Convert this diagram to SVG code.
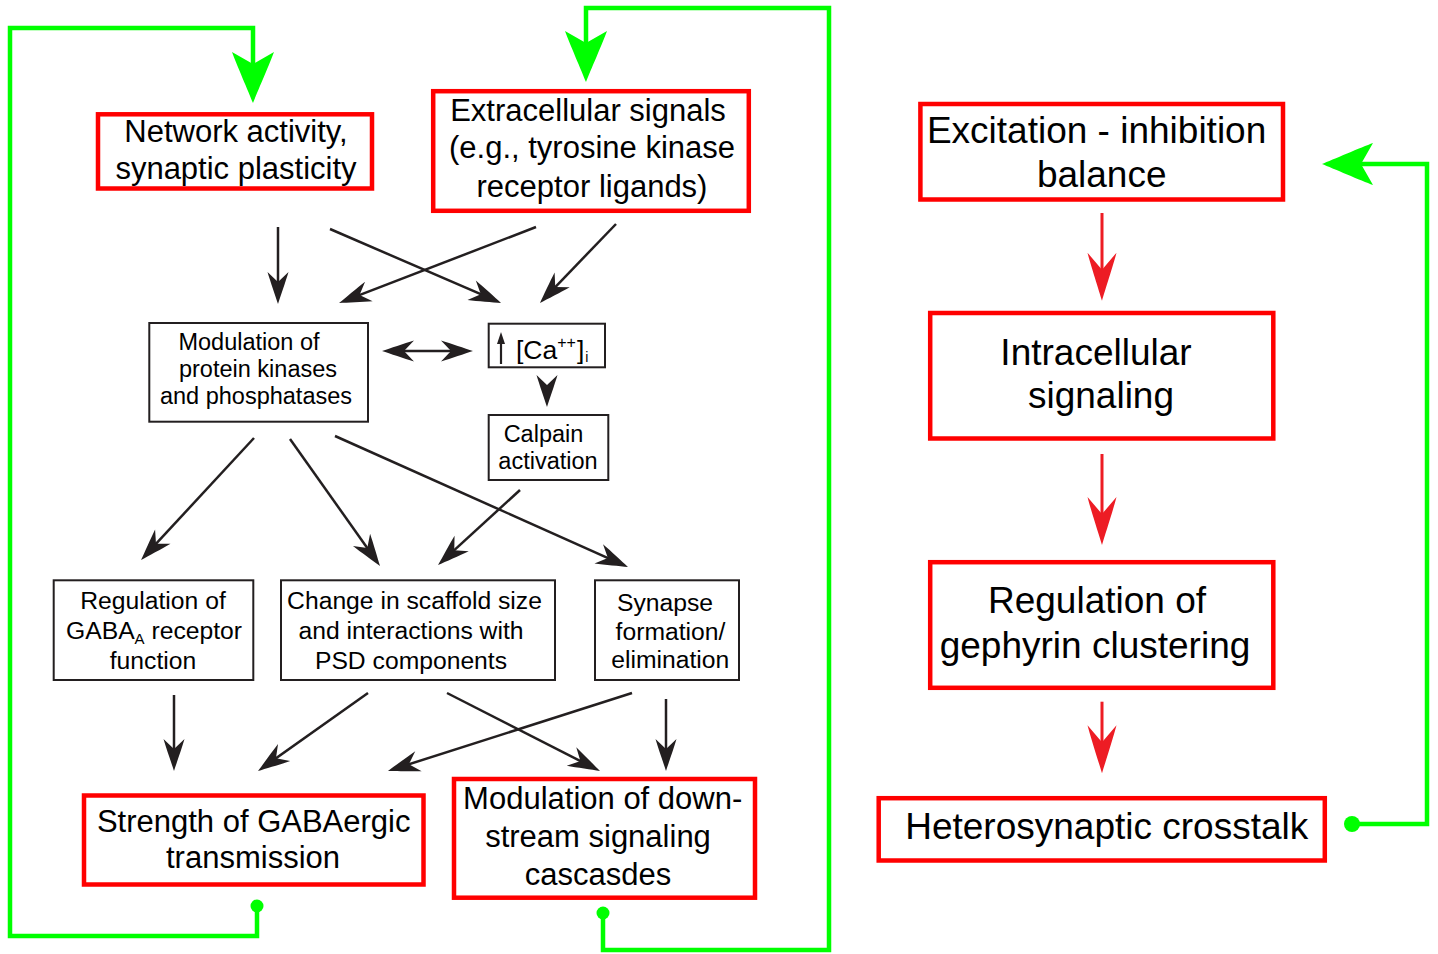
<svg xmlns="http://www.w3.org/2000/svg" width="1438" height="954" viewBox="0 0 1438 954">
<style>
.rbox{fill:#fff;stroke:#ff0000;stroke-width:4.5}
.bbox{fill:#fff;stroke:#231f20;stroke-width:2}
text{font-family:"Liberation Sans",Arial,Helvetica,sans-serif;fill:#000}
.big{font-size:31px;text-anchor:middle}
.xl{font-size:37px;text-anchor:middle}
.sm{font-size:24.7px}
.smc{font-size:24.7px;text-anchor:middle}
.tight{font-size:23.5px;text-anchor:middle}
.blk{stroke:#231f20;stroke-width:2.5;fill:none;marker-end:url(#ab)}
.red{stroke:#ed1c24;stroke-width:3;fill:none;marker-end:url(#ar)}
.grn{stroke:#00ff00;stroke-width:4.5;fill:none;stroke-linejoin:miter;marker-end:url(#ag)}
</style>
<defs>
<marker id="ab" markerUnits="userSpaceOnUse" orient="auto" refX="-12" refY="0" markerWidth="40" markerHeight="30" overflow="visible">
<path d="M0,0 C-8,-2.6 -22,-7.5 -32,-10.5 L-22,0 L-32,10.5 C-22,7.5 -8,2.6 0,0 Z" fill="#231f20"/>
</marker>
<marker id="abs" markerUnits="userSpaceOnUse" orient="auto-start-reverse" refX="-12" refY="0" markerWidth="40" markerHeight="30" overflow="visible">
<path d="M0,0 C-8,-2.6 -22,-7.5 -32,-10.5 L-22,0 L-32,10.5 C-22,7.5 -8,2.6 0,0 Z" fill="#231f20"/>
</marker>
<marker id="ar" markerUnits="userSpaceOnUse" orient="auto" refX="-20" refY="0" markerWidth="60" markerHeight="40" overflow="visible">
<path d="M0,0 C-10,-3 -38,-12 -48,-14.5 L-31,0 L-48,14.5 C-38,12 -10,3 0,0 Z" fill="#ed1c24"/>
</marker>
<marker id="ag" markerUnits="userSpaceOnUse" orient="auto" refX="-20" refY="0" markerWidth="60" markerHeight="50" overflow="visible">
<path d="M0,0 C-10,-4 -40,-17 -51,-21 L-39,0 L-51,21 C-40,17 -10,4 0,0 Z" fill="#00ff00"/>
</marker>
</defs>
<rect width="1438" height="954" fill="#fff"/>

<g id="connectors">
<path class="grn" d="M257,906 L257,936 L10,936 L10,28 L253,28 L253,83"/>
<circle cx="257" cy="906" r="6.5" fill="#00ff00"/>
<path class="grn" d="M603,913 L603,950 L829,950 L829,8 L586,8 L586,62"/>
<circle cx="603" cy="913" r="6.5" fill="#00ff00"/>
<path class="grn" d="M1352,824 L1427,824 L1427,164 L1342,164"/>
<circle cx="1352" cy="824" r="8" fill="#00ff00"/>
<line class="blk" x1="278" y1="227" x2="278" y2="292"/>
<line class="blk" x1="330" y1="229" x2="490" y2="298.2"/>
<line class="blk" x1="536" y1="227" x2="350.2" y2="298.7"/>
<line class="blk" x1="616" y1="224" x2="548.3" y2="294.3"/>
<line x1="394" y1="351" x2="461" y2="351" stroke="#231f20" stroke-width="2.5" marker-start="url(#abs)" marker-end="url(#ab)"/>
<line class="blk" x1="547" y1="386" x2="547" y2="395"/>
<line class="blk" x1="254" y1="438" x2="149.2" y2="551.2"/>
<line class="blk" x1="290" y1="439" x2="373.1" y2="556.2"/>
<line class="blk" x1="335" y1="436" x2="617" y2="562.1"/>
<line class="blk" x1="520" y1="490" x2="446.9" y2="556.9"/>
<line class="blk" x1="174" y1="695" x2="174" y2="759"/>
<line class="blk" x1="368" y1="693" x2="267.8" y2="764.1"/>
<line class="blk" x1="447" y1="693" x2="589.3" y2="765.6"/>
<line class="blk" x1="632" y1="693" x2="399.4" y2="767.3"/>
<line class="blk" x1="666" y1="699" x2="666" y2="759"/>
<line class="red" x1="1102" y1="213" x2="1102" y2="280.7"/>
<line class="red" x1="1102" y1="454" x2="1102" y2="525"/>
<line class="red" x1="1102" y1="701.7" x2="1102" y2="753.3"/>
</g>

<g id="network">
<rect class="rbox" x="98" y="114.3" width="274" height="74.2"/>
<text class="big" x="236" y="142">Network activity,</text>
<text class="big" x="236" y="179">synaptic plasticity</text>
</g>

<g id="extracellular">
<rect class="rbox" x="433.2" y="91.2" width="315.6" height="119.6"/>
<text class="big" x="588" y="120.7">Extracellular signals</text>
<text class="big" x="592" y="158.3">(e.g., tyrosine kinase</text>
<text class="big" x="592" y="196.7">receptor ligands)</text>
</g>

<g id="kinases">
<rect class="bbox" x="149.3" y="323" width="218.7" height="98.7"/>
<text class="tight" x="249" y="350">Modulation of</text>
<text class="tight" x="258" y="377">protein kinases</text>
<text class="tight" x="256" y="404">and phosphatases</text>
</g>

<g id="calcium">
<rect class="bbox" x="488.7" y="323.7" width="116.3" height="43.6"/>
<line x1="501" y1="364" x2="501" y2="342" stroke="#231f20" stroke-width="2.2"/>
<path d="M501,332 L497,344 L505,344 Z" fill="#231f20"/>
<text x="516" y="359" font-size="26.5">[Ca<tspan font-size="16" dy="-11">++</tspan><tspan dx="1" dy="11">]</tspan><tspan font-size="14" dx="1" dy="3">i</tspan></text>
</g>

<g id="calpain">
<rect class="bbox" x="488.7" y="415" width="119.6" height="65"/>
<text class="tight" x="543.5" y="442">Calpain</text>
<text class="tight" x="548" y="469">activation</text>
</g>

<g id="gabaa">
<rect class="bbox" x="53.7" y="580.3" width="199.6" height="99.7"/>
<text class="smc" x="153" y="609.3">Regulation of</text>
<text class="sm" x="66" y="639.3">GABA<tspan font-size="15" dy="5">A</tspan><tspan dy="-5"> receptor</tspan></text>
<text class="smc" x="153" y="669">function</text>
</g>

<g id="scaffold">
<rect class="bbox" x="281" y="580.3" width="274" height="99.7"/>
<text class="smc" x="414.5" y="609.3">Change in scaffold size</text>
<text class="smc" x="411" y="639.3">and interactions with</text>
<text class="smc" x="411" y="669">PSD components</text>
</g>

<g id="synapse">
<rect class="bbox" x="595" y="580.3" width="144" height="99.7"/>
<text class="smc" x="665" y="610.7">Synapse</text>
<text class="smc" x="670.5" y="640">formation/</text>
<text class="smc" x="670.3" y="668.3">elimination</text>
</g>

<g id="strength">
<rect class="rbox" x="84" y="795.5" width="339.5" height="89"/>
<text class="big" x="253.7" y="831.7">Strength of GABAergic</text>
<text class="big" x="253" y="868.3">transmission</text>
</g>

<g id="downstream">
<rect class="rbox" x="454" y="779" width="301" height="118.7"/>
<text class="big" x="602.7" y="809.3">Modulation of down-</text>
<text class="big" x="598" y="846.7">stream signaling</text>
<text class="big" x="598" y="885">cascasdes</text>
</g>

<g id="excitation">
<rect class="rbox" x="920.4" y="104" width="362.6" height="95.5"/>
<text class="xl" x="1096.6" y="142.7">Excitation - inhibition</text>
<text class="xl" x="1101.7" y="187.3">balance</text>
</g>

<g id="intracellular">
<rect class="rbox" x="930.2" y="313" width="343.1" height="125.5"/>
<text class="xl" x="1096" y="365">Intracellular</text>
<text class="xl" x="1101" y="408">signaling</text>
</g>

<g id="gephyrin">
<rect class="rbox" x="930.2" y="562.2" width="343.1" height="125.6"/>
<text class="xl" x="1097" y="613.3">Regulation of</text>
<text class="xl" x="1095" y="658.3">gephyrin clustering</text>
</g>

<g id="heterosynaptic">
<rect class="rbox" x="878.7" y="798.2" width="446.1" height="62.3"/>
<text class="xl" x="1106.7" y="839.3">Heterosynaptic crosstalk</text>
</g>
</svg>
